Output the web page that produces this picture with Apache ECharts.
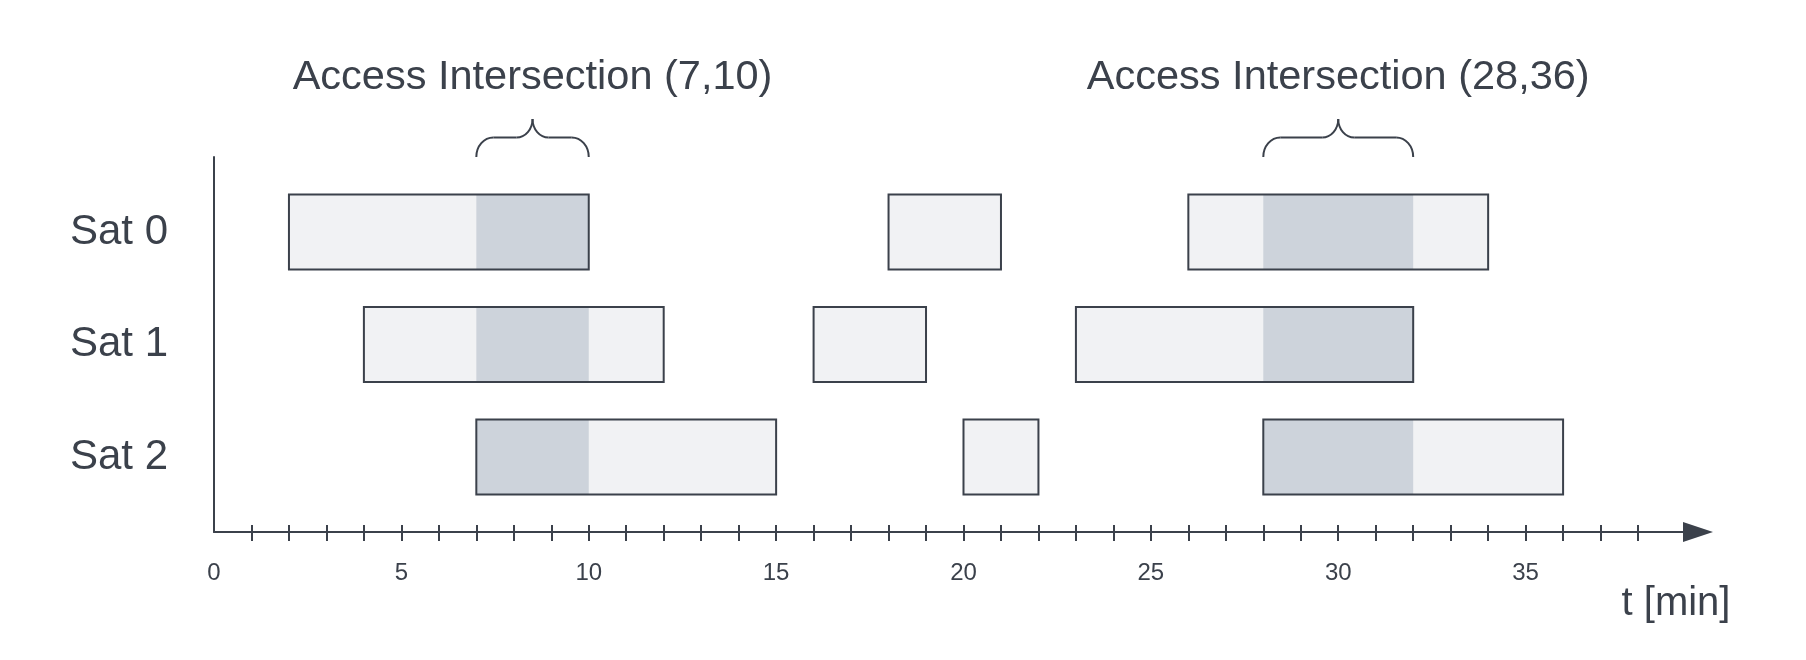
<!DOCTYPE html>
<html lang="en">

<head>
    <meta charset="UTF-8">
    <title>Access Intersection</title>
    <script src="https://cdn.jsdelivr.net/npm/echarts@6.0.0/dist/echarts.min.js"></script>
    <style>
        body {
            margin: 0;
            padding: 0;
            background: #ffffff;
        }

        #main {
            width: 1806px;
            height: 660px;
        }
    </style>
</head>

<body>
    <div id="main"></div>

    <script>
        // satellites (rows, top to bottom)
        var sats = ['Sat 0', 'Sat 1', 'Sat 2'];

        // access windows per satellite [start, end] in minutes
        var sat0Windows = [[2, 10], [18, 21], [26, 34]];
        var sat1Windows = [[4, 12], [16, 19], [23, 32]];
        var sat2Windows = [[7, 15], [20, 22], [28, 36]];

        // common access intervals and their captions
        var intersections = [[7, 10], [28, 32]];
        var intersectionLabels = ['Access Intersection (7,10)', 'Access Intersection (28,36)'];

        // axis ticks and labels
        var xTicks = [1, 2, 3, 4, 5, 6, 7, 8, 9, 10, 11, 12, 13, 14, 15, 16, 17, 18, 19,
            20, 21, 22, 23, 24, 25, 26, 27, 28, 29, 30, 31, 32, 33, 34, 35, 36, 37, 38];
        var xLabels = [0, 5, 10, 15, 20, 25, 30, 35];
        var xMax = 39.6;

        var ink = '#3b414b';
        var light = '#f1f2f4';
        var dark = '#cdd3db';
        var font = '"Liberation Sans", Arial, sans-serif';
        var barHeight = 2 / 3;

        var windowData = [];
        [sat0Windows, sat1Windows, sat2Windows].forEach(function (list, row) {
            list.forEach(function (w) {
                windowData.push([row, w[0], w[1]]);
            });
        });

        function renderWindow(params, api) {
            var row = api.value(0);
            var s = api.value(1);
            var e = api.value(2);
            var p0 = api.coord([s, row]);
            var p1 = api.coord([e, row]);
            var h = api.size([0, barHeight])[1];
            var y = p0[1] - h / 2;
            var children = [{
                type: 'rect',
                shape: { x: p0[0], y: y, width: p1[0] - p0[0], height: h },
                style: { fill: light, stroke: null }
            }];
            intersections.forEach(function (iv) {
                var a = Math.max(s, iv[0]);
                var b = Math.min(e, iv[1]);
                if (b > a) {
                    var q0 = api.coord([a, row]);
                    var q1 = api.coord([b, row]);
                    children.push({
                        type: 'rect',
                        shape: { x: q0[0], y: y, width: q1[0] - q0[0], height: h },
                        style: { fill: dark, stroke: null }
                    });
                }
            });
            children.push({
                type: 'rect',
                shape: { x: p0[0], y: y, width: p1[0] - p0[0], height: h },
                style: { fill: 'none', stroke: ink, lineWidth: 2 }
            });
            return { type: 'group', children: children };
        }

        function renderBrace(params, api) {
            var a = api.coord([api.value(0), -2 / 3]);
            var b = api.coord([api.value(1), -2 / 3]);
            var x0 = a[0], x1 = b[0], xm = (x0 + x1) / 2;
            var yb = a[1], yh = yb - 19.5, yt = yb - 38;
            var r = 17, r2 = 16, k = 0.552;
            var st = { stroke: ink, lineWidth: 2, fill: 'none' };
            function curve(sx, sy, c1x, c1y, c2x, c2y, ex, ey) {
                return {
                    type: 'bezierCurve',
                    shape: { x1: sx, y1: sy, cpx1: c1x, cpy1: c1y, cpx2: c2x, cpy2: c2y, x2: ex, y2: ey },
                    style: st
                };
            }
            return {
                type: 'group',
                children: [
                    curve(x0, yb, x0, yb - k * (yb - yh), x0 + (1 - k) * r, yh, x0 + r, yh),
                    { type: 'line', shape: { x1: x0 + r, y1: yh, x2: xm - r2, y2: yh }, style: st },
                    curve(xm - r2, yh, xm - r2 + k * r2, yh, xm, yt + k * (yh - yt), xm, yt),
                    curve(x1, yb, x1, yb - k * (yb - yh), x1 - (1 - k) * r, yh, x1 - r, yh),
                    { type: 'line', shape: { x1: x1 - r, y1: yh, x2: xm + r2, y2: yh }, style: st },
                    curve(xm + r2, yh, xm + r2 - k * r2, yh, xm, yt + k * (yh - yt), xm, yt),
                    {
                        type: 'text',
                        x: xm,
                        y: yb - 79,
                        style: {
                            text: intersectionLabels[params.dataIndex],
                            fill: ink,
                            fontSize: 41.5,
                            fontFamily: font,
                            align: 'center',
                            verticalAlign: 'middle'
                        }
                    }
                ]
            };
        }

        var chartDom = document.getElementById('main');
        var myChart = echarts.init(chartDom);
        var option;

        option = {
            animation: false,
            backgroundColor: '#ffffff',
            grid: {
                left: 214,
                right: 108,
                top: 157,
                bottom: 128
            },
            xAxis: [
                {
                    type: 'value',
                    position: 'bottom',
                    min: 0,
                    max: xMax,
                    splitLine: { show: false },
                    axisLine: {
                        onZero: false,
                        symbol: ['none', 'triangle'],
                        symbolSize: [20, 30],
                        lineStyle: { color: ink, width: 2 }
                    },
                    axisTick: {
                        show: true,
                        length: 9,
                        customValues: xTicks,
                        lineStyle: { color: ink, width: 2 }
                    },
                    axisLabel: {
                        customValues: xLabels,
                        margin: 29,
                        color: ink,
                        fontSize: 24,
                        fontFamily: font
                    },
                    name: 't [min]',
                    nameLocation: 'end',
                    nameGap: -22,
                    nameTextStyle: {
                        color: ink,
                        fontSize: 40,
                        fontFamily: font,
                        align: 'center',
                        verticalAlign: 'top',
                        padding: [52, 0, 0, 0]
                    }
                },
                {
                    type: 'value',
                    position: 'bottom',
                    min: 0,
                    max: xMax,
                    splitLine: { show: false },
                    axisLine: { show: false, onZero: false },
                    axisTick: {
                        show: true,
                        inside: true,
                        length: 7,
                        customValues: xTicks,
                        lineStyle: { color: ink, width: 2 }
                    },
                    axisLabel: { show: false }
                }
            ],
            yAxis: {
                type: 'value',
                inverse: true,
                min: -2 / 3,
                max: 8 / 3,
                splitLine: { show: false },
                axisLine: {
                    show: true,
                    onZero: false,
                    lineStyle: { color: ink, width: 2 }
                },
                axisTick: { show: false },
                axisLabel: {
                    customValues: [0, 1, 2],
                    formatter: function (v) {
                        return sats[Math.round(v)];
                    },
                    margin: 46,
                    color: ink,
                    fontSize: 42,
                    fontFamily: font,
                    padding: [0, 0, 16, 0]
                }
            },
            series: [
                {
                    type: 'custom',
                    name: 'access',
                    renderItem: renderWindow,
                    encode: { x: [1, 2], y: 0 },
                    data: windowData
                },
                {
                    type: 'custom',
                    name: 'intersection',
                    renderItem: renderBrace,
                    encode: { x: [0, 1] },
                    clip: false,
                    data: intersections
                }
            ]
        };

        option && myChart.setOption(option);
    </script>
</body>

</html>
